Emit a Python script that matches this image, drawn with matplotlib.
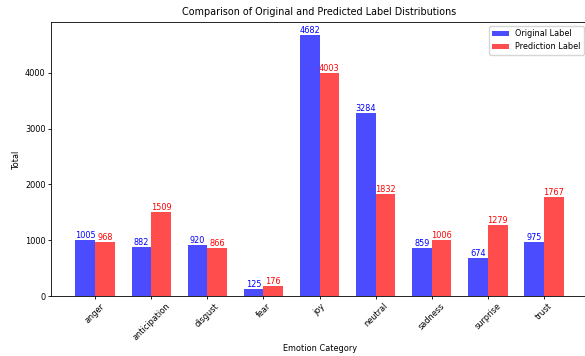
import matplotlib
matplotlib.use("Agg")
import matplotlib.pyplot as plt
import numpy as np

categories = ["anger", "anticipation", "disgust", "fear", "joy",
              "neutral", "sadness", "surprise", "trust"]
original = [1005, 882, 920, 125, 4682, 3284, 859, 674, 975]
predicted = [968, 1509, 866, 176, 4003, 1832, 1006, 1279, 1767]

plt.rcParams["font.size"] = 5.9
plt.rcParams["axes.linewidth"] = 0.6
plt.rcParams["xtick.major.width"] = 0.6
plt.rcParams["ytick.major.width"] = 0.6
plt.rcParams["xtick.major.size"] = 2
plt.rcParams["ytick.major.size"] = 2
plt.rcParams["xtick.major.pad"] = 2
plt.rcParams["ytick.major.pad"] = 2

fig = plt.figure(figsize=(5.85, 3.56), dpi=100)
ax = fig.add_axes([0.0872, 0.1685, 0.918, 0.770])

x = np.arange(len(categories))
w = 0.35
b1 = ax.bar(x - w/2, original, w, color="blue", alpha=0.7, label="Original Label")
b2 = ax.bar(x + w/2, predicted, w, color="red", alpha=0.7, label="Prediction Label")

for bar in b1:
    h = bar.get_height()
    ax.text(bar.get_x() + bar.get_width()/2, h, str(int(h)), ha="center", va="bottom", color="blue")
for bar in b2:
    h = bar.get_height()
    ax.text(bar.get_x() + bar.get_width()/2, h, str(int(h)), ha="center", va="bottom", color="red")

ax.set_xticks(x)
ax.set_xticklabels(categories, rotation=45)
ax.set_xlabel("Emotion Category", labelpad=1.5)
ax.set_ylabel("Total", labelpad=3)
ax.set_title("Comparison of Original and Predicted Label Distributions", fontsize=6.9, pad=5)
ax.legend(loc="upper right")

fig.savefig("out.png", dpi=100)
